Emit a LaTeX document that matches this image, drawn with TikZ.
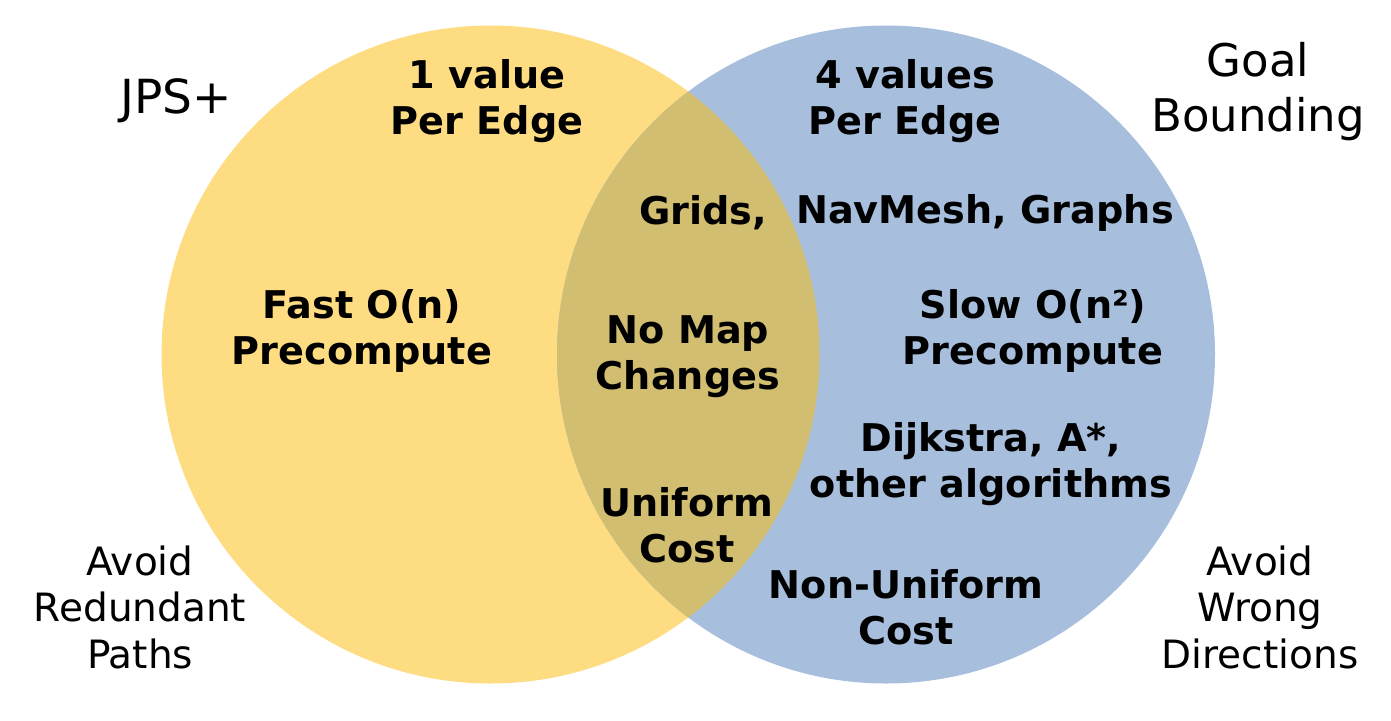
\documentclass[tikz,border=0pt]{standalone}
\usepackage{fontspec}
\setmainfont{DejaVu Sans}
\begin{document}
\begin{tikzpicture}[x=1pt,y=-1pt,
  bold/.style={font=\bfseries\fontsize{38.2}{46}\selectfont, align=center, inner sep=0pt},
  plain/.style={font=\fontsize{39}{46.5}\selectfont, align=center, inner sep=0pt},
  big/.style={font=\fontsize{45}{55}\selectfont, align=center, inner sep=0pt}]
\definecolor{jpsyellow}{RGB}{254,221,130}
\definecolor{gbblue}{RGB}{167,191,221}
\definecolor{overlap}{RGB}{209,190,112}
\useasboundingbox (0,0) rectangle (1391,720);
\fill[white] (0,0) rectangle (1391,720);
\fill[jpsyellow] (490.5,354.5) circle[radius=329];
\fill[gbblue] (886,354.5) circle[radius=329];
\begin{scope}
  \clip (490.5,354.5) circle[radius=329];
  \fill[overlap] (886,354.5) circle[radius=329];
\end{scope}
\node[big, font=\fontsize{47}{55}\selectfont] (jps) at (176,101) {JPS+};
\node[big] (gb) at (1258,92) {Goal\\Bounding};
\node[bold] (v1) at (487,101) {1 value\\Per Edge};
\node[bold] (v4) at (905,101) {4 values\\Per Edge};
\node[bold] (grids) at (703,213) {Grids,};
\node[bold] (nav) at (985,213) {NavMesh, Graphs};
\node[bold] (fast) at (362,331) {Fast O(n)\\Precompute};
\node[bold] (nomap) at (688,357) {No Map\\Changes};
\node[bold] (slow) at (1033,331) {Slow O(n²)\\Precompute};
\node[bold] (dij) at (991,464) {Dijkstra, A*,\\other algorithms};
\node[bold] (uni) at (687,525) {Uniform\\Cost};
\node[bold] (nonuni) at (906,607) {Non-Uniform\\Cost};
\node[plain] (ar) at (140,607) {Avoid\\Redundant\\Paths};
\node[plain] (aw) at (1260,607) {Avoid\\Wrong\\Directions};
\end{tikzpicture}
\end{document}
